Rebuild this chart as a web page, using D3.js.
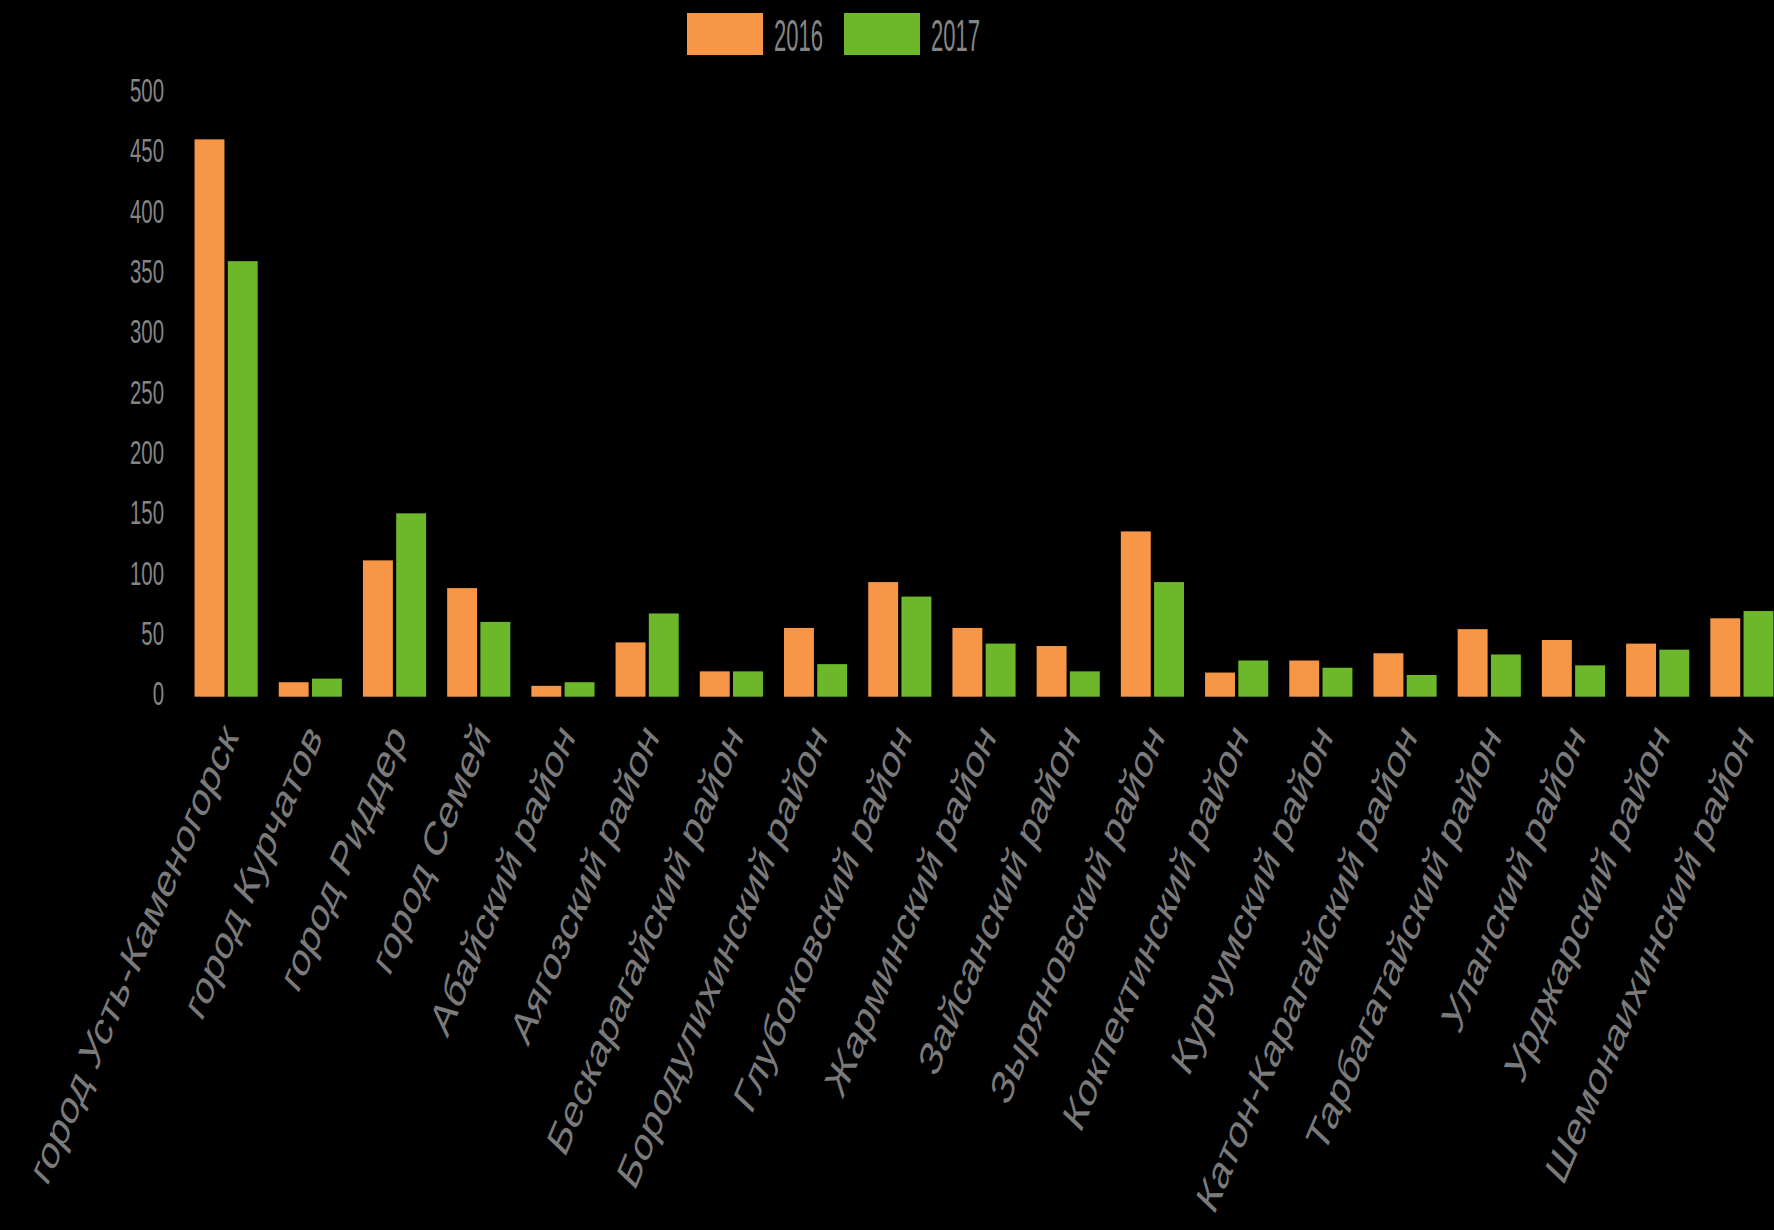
<!DOCTYPE html>
<html>
<head>
<meta charset="utf-8">
<script src="https://cdn.jsdelivr.net/npm/d3@7"></script>
<style>
  html, body { margin: 0; padding: 0; background: #000; }
  svg { display: block; }
</style>
</head>
<body>
<svg id="chart" width="1774" height="1230"></svg>
<script>
// ---- data ----
const categories = [
  "город Усть-Каменогорск", "город Курчатов", "город Риддер", "город Семей",
  "Абайский район", "Аягозский район", "Бескарагайский район", "Бородулихинский район",
  "Глубоковский район", "Жарминский район", "Зайсанский район", "Зыряновский район",
  "Кокпектинский район", "Курчумский район", "Катон-Карагайский район", "Тарбагатайский район",
  "Уланский район", "Урджарский район", "Шемонаихинский район"
];
const seriesNames = ["2016", "2017"];
const values2016 = [462, 12, 113, 90, 9, 45, 21, 57, 95, 57, 42, 137, 20, 30, 36, 56, 47, 44, 65];
const values2017 = [361, 15, 152, 62, 12, 69, 21, 27, 83, 44, 21, 95, 30, 24, 18, 35, 26, 39, 71];
const yTicks = [0, 50, 100, 150, 200, 250, 300, 350, 400, 450, 500];
const colors = ["#f79646", "#6cb82a"];

// ---- layout ----
const svg = d3.select("#chart");
const W = 1774, H = 1230;
svg.append("rect").attr("width", W).attr("height", H).attr("fill", "#000");

const y = d3.scaleLinear().domain([0, 500]).range([696.7, 93.5]);
const x0 = d3.scaleBand().domain(categories).range([184, 1784])
  .paddingInner(0.25).paddingOuter(0.125);
const x1 = d3.scaleBand().domain(seriesNames).range([0, x0.bandwidth()]).paddingInner(0.1);
const color = d3.scaleOrdinal().domain(seriesNames).range(colors);

const rows = categories.map((c, i) => ({
  cat: c,
  vals: [{ s: "2016", v: values2016[i] }, { s: "2017", v: values2017[i] }]
}));

// ---- bars ----
const groups = svg.append("g").selectAll("g").data(rows).join("g")
  .attr("transform", d => `translate(${x0(d.cat)},0)`);
groups.selectAll("rect").data(d => d.vals).join("rect")
  .attr("x", d => x1(d.s))
  .attr("y", d => y(d.v))
  .attr("width", x1.bandwidth())
  .attr("height", d => y(0) - y(d.v))
  .attr("fill", d => color(d.s));

// ---- y axis ----
const yAxis = d3.axisLeft(y).tickValues(yTicks).tickSize(0).tickFormat(d3.format("d"));
const yg = svg.append("g").call(yAxis);
yg.select(".domain").remove();
yg.selectAll(".tick text")
  .attr("x", 0)
  .attr("dy", "0.24em")
  .attr("text-anchor", "end")
  .attr("transform", "translate(164,0) scale(0.6,1)")
  .attr("fill", "#858585")
  .style("font-family", "'Liberation Sans', Arial, sans-serif")
  .style("font-size", "34px");

// ---- x axis ----
const xAxis = d3.axisBottom(x0).tickSize(0);
const xg = svg.append("g").attr("transform", `translate(0,${y(0)})`).call(xAxis);
xg.select(".domain").remove();
xg.selectAll(".tick text")
  .attr("x", 0).attr("y", 0).attr("dy", 0)
  .attr("text-anchor", "end")
  .attr("transform", "translate(13,41) scale(0.67,1) rotate(-57.5)")
  .attr("fill", "#7a7a7a")
  .style("font-family", "'Liberation Sans', Arial, sans-serif")
  .style("font-size", "48px");

// ---- legend ----
const legendX = [687, 844];
const legend = svg.append("g").selectAll("g").data(seriesNames).join("g")
  .attr("transform", (d, i) => `translate(${legendX[i]},13)`);
legend.append("rect")
  .attr("width", 76).attr("height", 42)
  .attr("fill", d => color(d));
legend.append("text")
  .attr("transform", "translate(87,38) scale(0.49,1)")
  .attr("fill", "#858585")
  .style("font-family", "'Liberation Sans', Arial, sans-serif")
  .style("font-size", "45px")
  .text(d => d);
</script>
</body>
</html>
